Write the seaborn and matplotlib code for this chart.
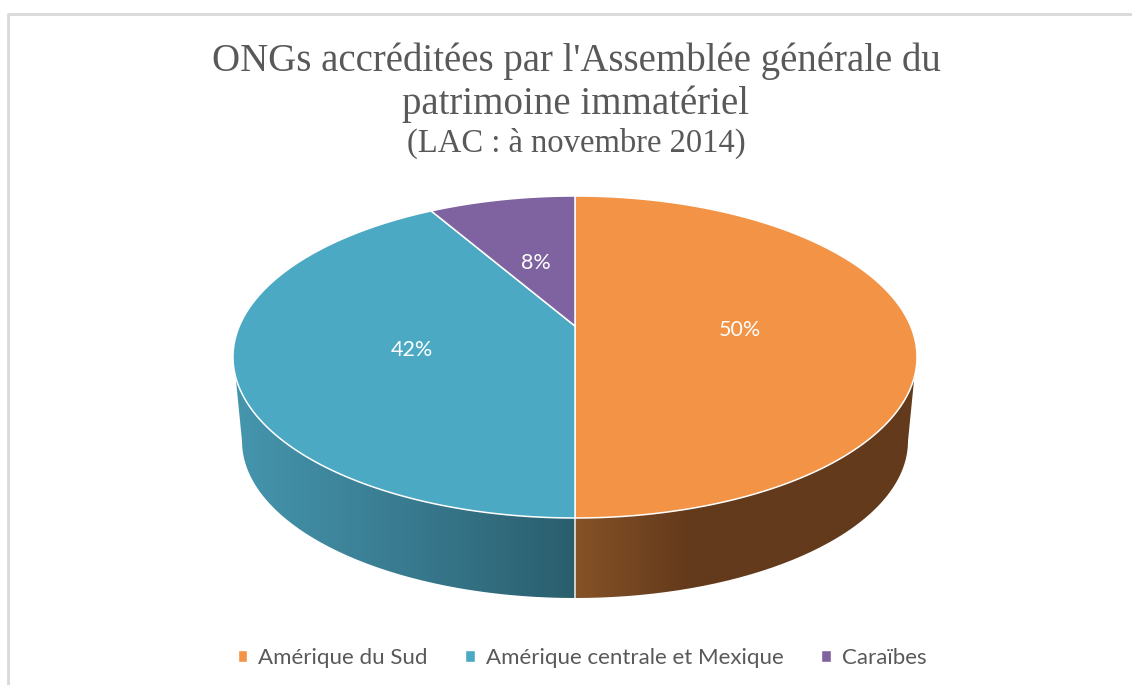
import numpy as np
import seaborn as sns
from matplotlib import pyplot as plt
from matplotlib.patches import PathPatch, Patch
from matplotlib.path import Path

title_lines = ["ONGs accréditées par l'Assemblée générale du", "patrimoine immatériel"]
subtitle = "(LAC : à novembre 2014)"
categories = ["Amérique du Sud", "Amérique centrale et Mexique", "Caraïbes"]
values = [6, 5, 1]
pct_labels = ["50%", "42%", "8%"]
top_colors = ["#F39345", "#4BA9C4", "#7F63A1"]
side_colors = [["#865227", "#633A1B", "#633A1B", "#633A1B"], ["#4596AE", "#397B90", "#2A5E6D"]]

sns.set_theme(style="white")
plt.rcParams["font.family"] = ["Lato", "DejaVu Sans"]

fig, ax = plt.subplots(figsize=(11.32, 6.85), dpi=100)
ax.set_position([0, 0, 1, 1])
ax.axis("off")

# top ellipse, the apex sits above its centre because of the perspective
cx, cy, rx, ry = 575, 357, 342, 161
k = 31 / ry
a = rx * np.sqrt(1 - k ** 2)
# bottom rim is a bit smaller
by, brx, bry = 441, 333, 157


def project(u, v):
    w = 1 + k * v
    return cx + a * u / w, cy - ry * (v + k) / w


def wedge_xy(start, end):
    theta = np.linspace(start, end, 200) * 2 * np.pi
    x, y = project(np.sin(theta), np.cos(theta))
    apex = project(0, 0)
    return np.r_[apex[0], x, apex[0]], np.r_[apex[1], y, apex[1]]


# side of the disc with a gradient, right part then left part
t0 = np.arcsin(20 / ry)
t = np.linspace(t0, np.pi / 2, 120)
t_bottom = np.linspace(np.pi / 2, 0, 120)
for sign, colors in zip([1, -1], side_colors):
    xs = np.r_[cx + sign * rx * np.cos(t), cx + sign * brx * np.cos(t_bottom)]
    ys = np.r_[cy + ry * np.sin(t), by + bry * np.sin(t_bottom)]
    poly = PathPatch(Path(np.c_[xs, ys]), fc="none", ec="none", transform=ax.transData)
    ax.add_patch(poly)
    cmap = sns.blend_palette(colors, as_cmap=True)
    grad = np.linspace(0, 1, 256)[None, :]
    if sign == 1:
        extent = (cx, cx + rx, 600, 370)
    else:
        extent = (cx - rx, cx, 600, 370)
    img = ax.imshow(grad, extent=extent, cmap=cmap, aspect="auto", interpolation="bilinear")
    img.set_clip_path(poly)

ax.plot([cx, cx], [cy + ry, by + bry], color="white", lw=1.2, alpha=0.85)

# top face
fractions = np.cumsum([0] + values) / sum(values)
for i in range(len(values)):
    x, y = wedge_xy(fractions[i], fractions[i + 1])
    ax.fill(x, y, facecolor=top_colors[i], edgecolor="white", lw=1.1)
    mid = (fractions[i] + fractions[i + 1]) * np.pi
    lx, ly = project(0.49 * np.sin(mid), 0.49 * np.cos(mid))
    ax.text(lx, ly + 4, pct_labels[i], color="white", fontsize=15.5, ha="center", va="center")

# chart frame, cropped on the right and at the bottom
ax.plot([8, 8, 1132], [685, 14, 14], color="#D9D9D9", lw=2)

ax.text(576, 61, title_lines[0], family="Liberation Serif", fontsize=28, color="#595959", ha="center", va="center")
ax.text(576, 104, title_lines[1], family="Liberation Serif", fontsize=28, color="#595959", ha="center", va="center")
ax.text(576, 143, subtitle, family="Liberation Serif", fontsize=23.5, color="#595959", ha="center", va="center")

handles = [Patch(facecolor=c) for c in top_colors]
ax.legend(handles, categories, ncol=3, loc="center", bbox_to_anchor=(582 / 1132, 1 - 658 / 685),
          frameon=False, fontsize=16, labelcolor="#595959", handlelength=0.42, handleheight=0.42,
          handletextpad=0.5, columnspacing=1.7)

ax.set_xlim(0, 1132)
ax.set_ylim(685, 0)
fig.savefig("out.png", dpi=100)
